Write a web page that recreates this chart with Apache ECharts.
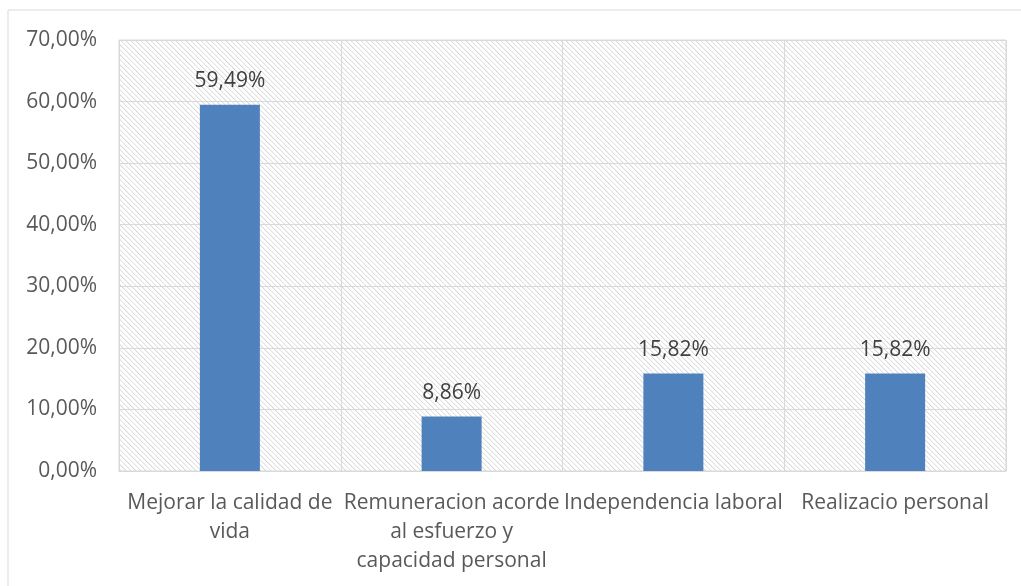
<!DOCTYPE html>
<html>
<head>
<meta charset="utf-8">
<script src="https://cdn.jsdelivr.net/npm/echarts@6/dist/echarts.min.js"></script>
<style>
  html, body { margin: 0; padding: 0; background: #fff; }
  #chart { width: 1021px; height: 586px; }
</style>
</head>
<body>
<div id="chart"></div>
<script>
const categories = [
  'Mejorar la calidad de\nvida',
  'Remuneracion acorde\nal esfuerzo y\ncapacidad personal',
  'Independencia laboral',
  'Realizacio personal',
];
const values = [59.49, 8.86, 15.82, 15.82];
const yMin = 0;
const yMax = 70;
const yStep = 10;

const textColor = '#595959';
const lineColor = '#d9d9d9';
const fontFamily = '"Open Sans", sans-serif';

// diagonal hatch for the plot area
function makeHatch() {
  const size = 10;
  const c = document.createElement('canvas');
  c.width = size;
  c.height = size;
  const ctx = c.getContext('2d');
  ctx.fillStyle = '#ffffff';
  ctx.fillRect(0, 0, size, size);
  for (let y = 0; y < size; y++) {
    for (let x = 0; x < size; x++) {
      const d = (x - y + size * 2) % 5;
      if (d === 0) {
        ctx.fillStyle = (x + y) % 2 ? '#d6d6d6' : '#e4e4e4';
        ctx.fillRect(x, y, 1, 1);
      } else if (d === 1) {
        ctx.fillStyle = '#f3f3f3';
        ctx.fillRect(x, y, 1, 1);
      }
    }
  }
  return c;
}

const fmt = (v) => v.toFixed(2).replace('.', ',') + '%';

const chart = echarts.init(document.getElementById('chart'));
chart.setOption({
  backgroundColor: '#ffffff',
  animation: false,
  textStyle: { fontFamily },
  graphic: [{
    type: 'rect',
    shape: { x: 8, y: 10, width: 1040, height: 620 },
    style: { fill: 'none', stroke: lineColor, lineWidth: 1 },
    silent: true,
  }],
  grid: {
    show: true,
    left: 119,
    top: 40,
    width: 887,
    height: 431,
    borderColor: lineColor,
    borderWidth: 1,
    backgroundColor: { image: makeHatch(), repeat: 'repeat' },
  },
  xAxis: {
    type: 'category',
    data: categories,
    axisLine: { show: true, lineStyle: { color: lineColor, width: 1 } },
    axisTick: { show: false },
    splitLine: { show: true, lineStyle: { color: lineColor, width: 1 } },
    axisLabel: {
      color: textColor,
      fontSize: 21,
      lineHeight: 29,
      margin: 18,
      interval: 0,
      fontFamily,
    },
  },
  yAxis: {
    type: 'value',
    min: yMin,
    max: yMax,
    interval: yStep,
    axisLine: { show: false },
    axisTick: { show: false },
    splitLine: { show: true, lineStyle: { color: lineColor, width: 1 } },
    axisLabel: {
      color: textColor,
      fontSize: 21,
      margin: 22,
      fontFamily,
      formatter: fmt,
    },
  },
  series: [{
    type: 'bar',
    data: values,
    barWidth: 60,
    itemStyle: { color: '#4f81bd' },
    label: {
      show: true,
      position: 'top',
      distance: 13,
      color: '#404040',
      fontSize: 21,
      fontFamily,
      formatter: (p) => fmt(p.value),
    },
  }],
});
</script>
</body>
</html>
